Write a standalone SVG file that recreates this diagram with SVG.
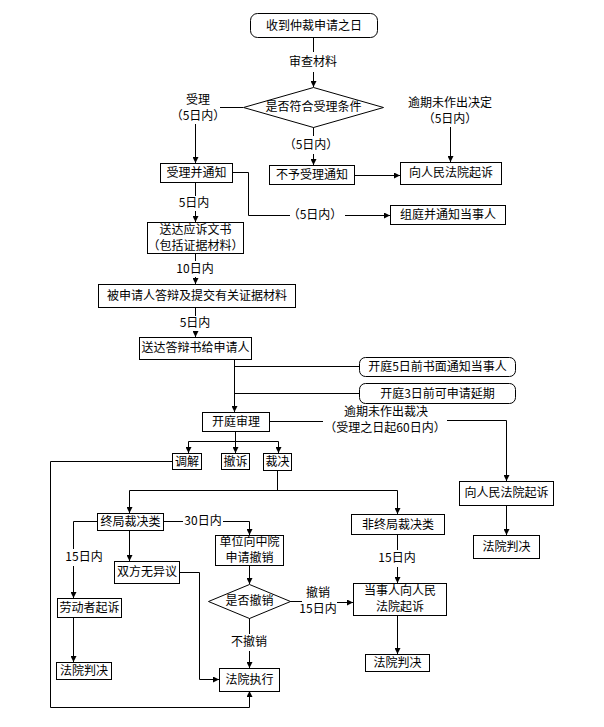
<svg xmlns="http://www.w3.org/2000/svg" width="604" height="727" viewBox="0 0 604 727">
<defs>
<marker id="ah" viewBox="0 0 8 8" refX="8" refY="4" markerWidth="6" markerHeight="6" markerUnits="userSpaceOnUse" orient="auto">
<path d="M0,0 L8,4 L0,8 z" fill="#000"/>
</marker>
<style>
.b{fill:#fff;stroke:#000;stroke-width:1}
.c{fill:none;stroke:#000;stroke-width:1}
.a{fill:none;stroke:#000;stroke-width:1;marker-end:url(#ah)}
text{font-family:"Noto Sans CJK SC","Liberation Sans",sans-serif;font-size:12px;text-anchor:middle;fill:#000}
</style>
</defs>
<rect width="604" height="727" fill="#fff"/>
<g id="connectors">
<path class="c" d="M313.5,37 V52"/>
<path class="a" d="M313.5,72 V87"/>
<path class="c" d="M243,107.5 H220"/>
<path class="a" d="M195.5,124 V163"/>
<path class="c" d="M313.5,127 V136"/>
<path class="a" d="M313.5,154 V165"/>
<path class="a" d="M450.5,127 V162"/>
<path class="a" d="M354,175.5 H400"/>
<path class="c" d="M232,172.5 H248.5 V215.5 H290"/>
<path class="a" d="M345,215.5 H390"/>
<path class="c" d="M195.5,182 V196"/>
<path class="a" d="M195.5,211 V222"/>
<path class="c" d="M195.5,253 V261"/>
<path class="a" d="M195.5,277 V284"/>
<path class="c" d="M195.5,307 V316"/>
<path class="a" d="M195.5,331 V337"/>
<path class="a" d="M234.5,359 V412"/>
<path class="c" d="M234.5,366.5 H359"/>
<path class="c" d="M234.5,393.5 H359"/>
<path class="c" d="M269,421.5 H323"/>
<path class="a" d="M447,420.5 H506.5 V481"/>
<path class="c" d="M235.5,431 V441.5 M188.5,441.5 H278.5"/>
<path class="a" d="M188.5,441.5 V453"/>
<path class="a" d="M235.5,441.5 V453"/>
<path class="a" d="M278.5,441.5 V453"/>
<path class="a" d="M172,461.5 H50.5 V707.5 H249.5 V691"/>
<path class="c" d="M277.5,470 V490.5 M129.5,490.5 H397.5"/>
<path class="a" d="M129.5,490.5 V513"/>
<path class="a" d="M397.5,490.5 V514"/>
<path class="c" d="M163,521.5 H183"/>
<path class="a" d="M223,521.5 H249.5 V535"/>
<path class="a" d="M249.5,565 V584"/>
<path class="c" d="M290,601.5 H302"/>
<path class="a" d="M337,602.5 H353"/>
<path class="c" d="M397.5,534 V550"/>
<path class="a" d="M397.5,567 V583"/>
<path class="a" d="M397.5,615 V654"/>
<path class="c" d="M249.5,618 V634"/>
<path class="a" d="M249.5,651 V668"/>
<path class="a" d="M129.5,530 V561"/>
<path class="a" d="M179,572.5 H199.5 V679.5 H219"/>
<path class="c" d="M97,521.5 H73.5 V549"/>
<path class="a" d="M73.5,566 V598"/>
<path class="a" d="M73.5,617 V662"/>
<path class="a" d="M506.5,505 V535"/>
</g>
<g id="labels">
<text x="313" y="66">审查材料</text>
<text x="198" y="104">受理<tspan x="198" dy="16">（5日内）</tspan></text>
<text x="450" y="107">逾期未作出决定<tspan x="450" dy="16">（5日内）</tspan></text>
<text x="311" y="149">（5日内）</text>
<text x="315" y="219">（5日内）</text>
<text x="194" y="207">5日内</text>
<text x="195" y="273">10日内</text>
<text x="195" y="327">5日内</text>
<text x="386" y="416">逾期未作出裁决<tspan x="385" dy="16">（受理之日起60日内）</tspan></text>
<text x="203" y="525">30日内</text>
<text x="84" y="561">15日内</text>
<text x="397" y="562">15日内</text>
<text x="318" y="597">撤销<tspan x="318" dy="16">15日内</tspan></text>
<text x="249" y="646">不撤销</text>
</g>
<g id="n_start"><rect class="b" x="250.5" y="13.5" width="127" height="24" rx="7"/><text x="314" y="30">收到仲裁申请之日</text></g>
<g id="n_check"><polygon class="b" points="313.5,87.5 383.5,107.5 313.5,127.5 243.5,107.5"/><text x="313.5" y="111">是否符合受理条件</text></g>
<g id="n_accept"><rect class="b" x="160.5" y="163.5" width="72" height="19"/><text x="196.5" y="177">受理并通知</text></g>
<g id="n_reject"><rect class="b" x="269.5" y="165.5" width="85" height="19"/><text x="312" y="179">不予受理通知</text></g>
<g id="n_court1"><rect class="b" x="400.5" y="162.5" width="101" height="22"/><text x="451" y="177">向人民法院起诉</text></g>
<g id="n_tribunal"><rect class="b" x="390.5" y="205.5" width="115" height="19"/><text x="448" y="219">组庭并通知当事人</text></g>
<g id="n_serve"><rect class="b" x="147.5" y="222.5" width="96" height="31"/><text x="195.5" y="234">送达应诉文书<tspan x="195.5" dy="16">（包括证据材料）</tspan></text></g>
<g id="n_defense"><rect class="b" x="98.5" y="284.5" width="197" height="23"/><text x="197" y="300">被申请人答辩及提交有关证据材料</text></g>
<g id="n_deliver"><rect class="b" x="139.5" y="337.5" width="112" height="22"/><text x="195.5" y="352">送达答辩书给申请人</text></g>
<g id="n_notice5"><rect class="b" x="359.5" y="357.5" width="156" height="19" rx="6"/><text x="437.5" y="371">开庭5日前书面通知当事人</text></g>
<g id="n_notice3"><rect class="b" x="359.5" y="383.5" width="156" height="20" rx="6"/><text x="437.5" y="398">开庭3日前可申请延期</text></g>
<g id="n_hearing"><rect class="b" x="202.5" y="412.5" width="67" height="19"/><text x="236" y="426">开庭审理</text></g>
<g id="n_mediate"><rect class="b" x="172.5" y="453.5" width="29" height="16"/><text x="187" y="466">调解</text></g>
<g id="n_withdraw"><rect class="b" x="221.5" y="453.5" width="28" height="16"/><text x="235.5" y="466">撤诉</text></g>
<g id="n_award"><rect class="b" x="263.5" y="453.5" width="28" height="17"/><text x="277.5" y="466">裁决</text></g>
<g id="n_court2"><rect class="b" x="459.5" y="481.5" width="94" height="24"/><text x="506.5" y="497">向人民法院起诉</text></g>
<g id="n_judge_r"><rect class="b" x="473.5" y="535.5" width="66" height="23"/><text x="506.5" y="551">法院判决</text></g>
<g id="n_final"><rect class="b" x="97.5" y="513.5" width="66" height="17"/><text x="130.5" y="526">终局裁决类</text></g>
<g id="n_nonfinal"><rect class="b" x="351.5" y="514.5" width="93" height="20"/><text x="398" y="529">非终局裁决类</text></g>
<g id="n_revoke_apply"><rect class="b" x="215.5" y="535.5" width="68" height="30"/><text x="249.5" y="546">单位向中院<tspan x="249.5" dy="16">申请撤销</tspan></text></g>
<g id="n_revoke_q"><polygon class="b" points="249.5,584.5 290.5,601.5 249.5,618.5 208.5,601.5"/><text x="249.5" y="605">是否撤销</text></g>
<g id="n_party_sue"><rect class="b" x="353.5" y="583.5" width="93" height="32"/><text x="400" y="595">当事人向人民<tspan x="400" dy="16">法院起诉</tspan></text></g>
<g id="n_judge_m"><rect class="b" x="365.5" y="654.5" width="64" height="17"/><text x="397.5" y="667">法院判决</text></g>
<g id="n_execute"><rect class="b" x="219.5" y="668.5" width="60" height="23"/><text x="249.5" y="684">法院执行</text></g>
<g id="n_noobject"><rect class="b" x="114.5" y="561.5" width="65" height="22"/><text x="147" y="576">双方无异议</text></g>
<g id="n_worker"><rect class="b" x="57.5" y="598.5" width="64" height="19"/><text x="89.5" y="612">劳动者起诉</text></g>
<g id="n_judge_l"><rect class="b" x="56.5" y="662.5" width="55" height="17"/><text x="84" y="675">法院判决</text></g>
</svg>
